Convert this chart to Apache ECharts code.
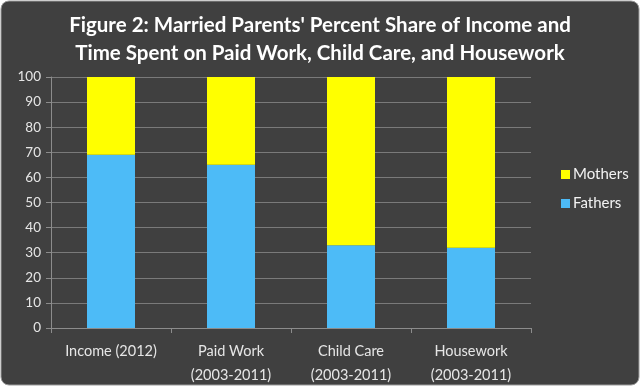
<!DOCTYPE html>
<html><head><meta charset="utf-8">
<script src="https://cdn.jsdelivr.net/npm/echarts@6/dist/echarts.min.js"></script>
<style>html,body{margin:0;padding:0;background:#fff}#c{width:640px;height:386px}</style>
</head><body><div id="c"></div>
<script>
var categories = ['Income (2012)', 'Paid Work\n(2003-2011)', 'Child Care\n(2003-2011)', 'Housework\n(2003-2011)'];
var fathers = [69, 65, 33, 32];
var mothers = [31, 35, 67, 68];
var yTicks = [0, 10, 20, 30, 40, 50, 60, 70, 80, 90, 100];

var chart = echarts.init(document.getElementById('c'));
chart.setOption({
  animation: false,
  graphic: [{
    type: 'rect', z: -10,
    shape: { x: 1, y: 1, width: 638, height: 384, r: 8 },
    style: { fill: '#404040', stroke: '#9a9a9a', lineWidth: 1 }
  }],
  title: {
    text: "Figure 2: Married Parents' Percent Share of Income and\nTime Spent on Paid Work, Child Care, and Housework",
    left: 'center', top: 6,
    textStyle: { color: '#ffffff', fontFamily: 'Lato', fontWeight: 'bold', fontSize: 20.5, lineHeight: 28 }
  },
  legend: {
    orient: 'vertical', left: 556, top: 162, itemGap: 14,
    itemWidth: 9, itemHeight: 9, icon: 'rect',
    data: ['Mothers', 'Fathers'],
    textStyle: { color: '#f2f2f2', fontFamily: 'Lato', fontSize: 15, padding: [0, 0, 0, -2] }
  },
  grid: { left: 51, right: 109, top: 77, bottom: 58, containLabel: false, outerBoundsMode: 'none' },
  xAxis: {
    type: 'category', data: categories,
    axisLine: { lineStyle: { color: '#8c8c8c' } },
    axisTick: { show: true, length: 5, lineStyle: { color: '#8c8c8c' } },
    axisLabel: { color: '#e6e6e6', fontFamily: 'Lato', fontSize: 14.5, lineHeight: 24, margin: 11 }
  },
  yAxis: {
    type: 'value', min: 0, max: 100, interval: 10,
    axisLine: { show: true, lineStyle: { color: '#8c8c8c' } },
    axisTick: { show: true, length: 5, lineStyle: { color: '#8c8c8c' } },
    splitLine: { lineStyle: { color: '#7a7a7a' } },
    axisLabel: { color: '#e6e6e6', fontFamily: 'Lato', fontSize: 13.5, margin: 10,
      formatter: function (v) { return yTicks.indexOf(v) >= 0 ? String(v) : ''; } }
  },
  series: [
    { name: 'Fathers', type: 'bar', stack: 's', data: fathers, barWidth: '40%',
      itemStyle: { color: '#4dbbf7' } },
    { name: 'Mothers', type: 'bar', stack: 's', data: mothers, barWidth: '40%',
      itemStyle: { color: '#ffff00' } }
  ]
});
</script></body></html>
